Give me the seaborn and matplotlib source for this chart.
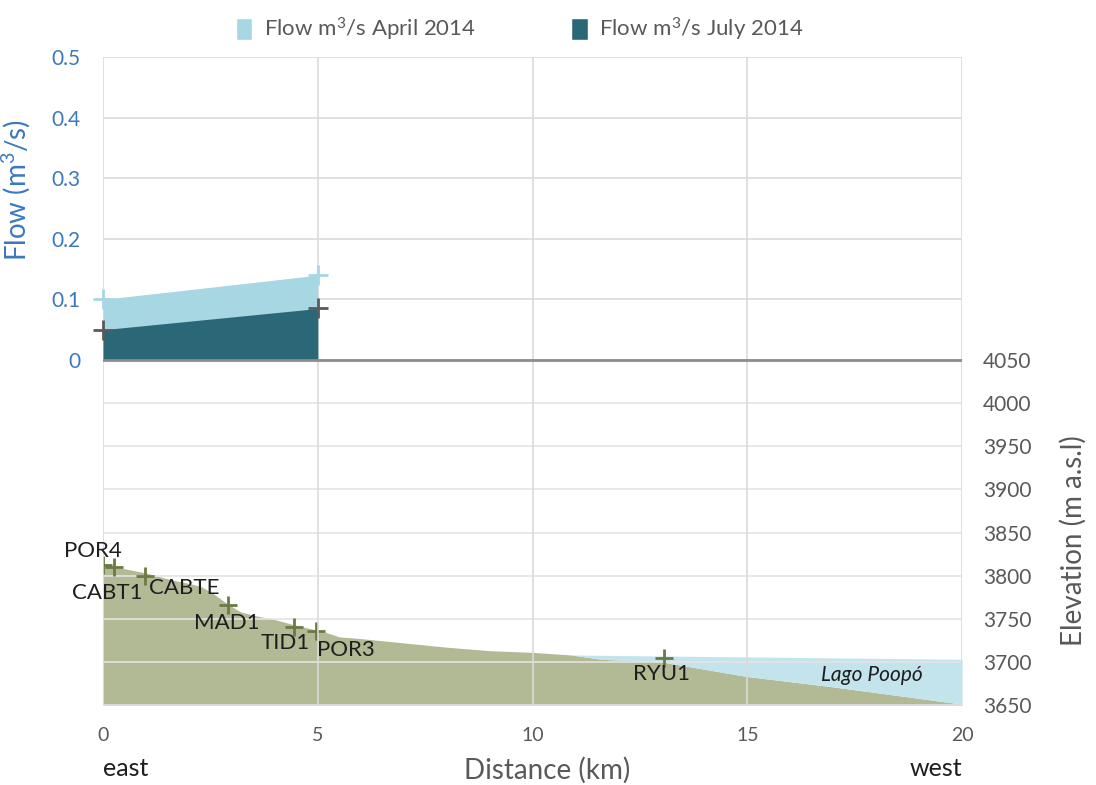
import numpy as np
import matplotlib
matplotlib.use("Agg")
import matplotlib.pyplot as plt
from matplotlib.patches import Patch
import seaborn as sns

# ---- data -------------------------------------------------------------
flow_km = [0.0, 5.0]
flow_april = [0.10, 0.14]
flow_july = [0.05, 0.085]

profile_km = [0.0, 0.25, 0.5, 1.0, 1.3, 1.6, 2.0, 2.3, 2.6, 2.9, 3.2, 3.5,
              4.0, 4.45, 4.95, 5.2, 5.5, 6.0, 7.0, 8.0, 9.0, 10.0, 10.9,
              11.6, 13.0, 15.0, 17.0, 20.0]
profile_elev = [3811, 3810, 3808, 3803, 3799, 3795, 3791, 3787, 3778, 3767,
                3758, 3754, 3749, 3743, 3737, 3734, 3729, 3727, 3722, 3717,
                3713, 3711, 3708, 3703, 3700, 3683, 3671, 3651]

lake_km = [10.9, 20.0]
lake_level = [3708, 3703]

stations = ["POR4", "CABT1", "CABTE", "MAD1", "TID1", "POR3", "RYU1"]
station_km = [0.0, 0.25, 0.98, 2.92, 4.45, 4.95, 13.05]
station_elev = [3812, 3810, 3800, 3766, 3741, 3736, 3704]
# label offsets in pixels from each station marker
label_dx = [-10, -7, 39, -2, -9, 30, -2]
label_dy = [14, -26, -12, -18, -16, -19, -16]

x_ticks = [0, 5, 10, 15, 20]
flow_ticks = [0, 0.1, 0.2, 0.3, 0.4, 0.5]
flow_tick_labels = ["0", "0.1", "0.2", "0.3", "0.4", "0.5"]
elev_ticks = [3650, 3700, 3750, 3800, 3850, 3900, 3950, 4000, 4050]

# ---- style ------------------------------------------------------------
sns.set_theme(style="white")
plt.rcParams["font.family"] = ["Lato", "DejaVu Sans"]
plt.rcParams["mathtext.fontset"] = "custom"
plt.rcParams["mathtext.rm"] = "Lato"
plt.rcParams["mathtext.it"] = "Lato:italic"

c_april = "#A7D7E3"
c_july = "#2B6877"
c_ground = "#B2B995"
c_lake = "#C3E4EC"
c_station = "#6B7A42"
c_blue = "#3C78C0"
c_gray = "#595959"
c_grid = "#DADADA"

fig = plt.figure(figsize=(10.96, 7.85), dpi=100)
ax = fig.add_axes([0.094, 0.1019, 0.7838, 0.8255])
ax2 = ax.twinx()

# the flow panel takes the upper part, the elevation panel the lower part
split = 345 / 648
ax.set_xlim(0, 20)
ax.set_ylim(-0.5 * split / (1 - split), 0.5)
ax2.set_ylim(3650, 4050 + 400 * (1 - split) / split)

ax.set_zorder(2)
ax.patch.set_visible(False)
for a in (ax, ax2):
    for s in a.spines.values():
        s.set_visible(False)

# ---- elevation panel -------------------------------------------------
ax2.fill_between(profile_km, profile_elev, 3650, color=c_ground, lw=0, zorder=1)
lk = [k for k in profile_km if k >= lake_km[0]]
ground = np.interp(lk, profile_km, profile_elev)
surface = np.interp(lk, lake_km, lake_level)
ax2.fill_between(lk, ground, surface, where=surface >= ground,
                 interpolate=True, color=c_lake, lw=0, zorder=1)

ax2.set_yticks(elev_ticks)
ax2.grid(axis="y", color="#E4E4E4", lw=1.2)
ax2.set_axisbelow(False)
ax2.tick_params(axis="y", length=0, pad=15, labelsize=15, labelcolor=c_gray)

sns.scatterplot(x=station_km, y=station_elev, marker="+", s=160,
                color=c_station, linewidth=2, ax=ax2, zorder=4, legend=False)
for name, k, e, dx, dy in zip(stations, station_km, station_elev, label_dx, label_dy):
    ax.annotate(name, xy=(k, e), xycoords=ax2.transData,
                xytext=(dx, dy), textcoords="offset pixels",
                ha="center", va="center", fontsize=16, color="#1E1E1E", zorder=6)

ax.annotate("Lago Poopó", xy=(17.9, 3685), xycoords=ax2.transData,
            ha="center", va="center", fontsize=15, style="italic",
            color="#1E1E1E", zorder=6)

# ---- flow panel -------------------------------------------------------
ax.fill_between(flow_km, flow_april, 0, color=c_april, lw=0, zorder=1)
ax.fill_between(flow_km, flow_july, 0, color=c_july, lw=0, zorder=1.5)
sns.scatterplot(x=flow_km, y=flow_april, marker="+", s=200, color=c_april,
                linewidth=2, ax=ax, zorder=3, legend=False, clip_on=False)
sns.scatterplot(x=flow_km, y=flow_july, marker="+", s=200, color="#5A5A5A",
                linewidth=2, ax=ax, zorder=3, legend=False, clip_on=False)
ax.axhline(0, color="#8C8C8C", lw=2, zorder=2)

ax.set_xticks(x_ticks)
ax.set_yticks(flow_ticks)
ax.set_yticklabels(flow_tick_labels)
ax.grid(True, color=c_grid, lw=1.2)
ax.set_axisbelow(True)
ax.tick_params(axis="y", length=0, pad=16, labelsize=15, labelcolor=c_blue)
ax.tick_params(axis="x", length=0, pad=16, labelsize=14, labelcolor=c_gray)

# ---- labels -----------------------------------------------------------
ax.set_ylabel("Flow (m$^{3}$/s)", fontsize=20, color=c_blue)
ax.yaxis.set_label_coords(-0.083, 0.795)
ax2.set_ylabel("Elevation (m a.s.l)", fontsize=20, color=c_gray,
               rotation=90, va="center")
ax2.yaxis.set_label_coords(1.13, 0.253)
ax.set_xlabel("Distance (km)", fontsize=20, color=c_gray, va="center")
ax.xaxis.set_label_coords(0.517, -0.100)

ax.annotate("east", xy=(0, 0), xycoords=("data", "axes fraction"),
            xytext=(0, -63), textcoords="offset pixels",
            ha="left", va="center", fontsize=18, color="#1E1E1E")
ax.annotate("west", xy=(20, 0), xycoords=("data", "axes fraction"),
            xytext=(0, -63), textcoords="offset pixels",
            ha="right", va="center", fontsize=18, color="#1E1E1E")

handles = [Patch(facecolor=c_april, label="Flow m$^{3}$/s April 2014"),
           Patch(facecolor=c_july, label="Flow m$^{3}$/s July 2014")]
fig.legend(handles=handles, ncol=2, loc="center", bbox_to_anchor=(0.474, 0.962),
           frameon=False, fontsize=16, handlelength=0.75, handleheight=1.15,
           handletextpad=0.5, columnspacing=4.3, labelcolor=c_gray)

fig.savefig("out.png", dpi=100)
